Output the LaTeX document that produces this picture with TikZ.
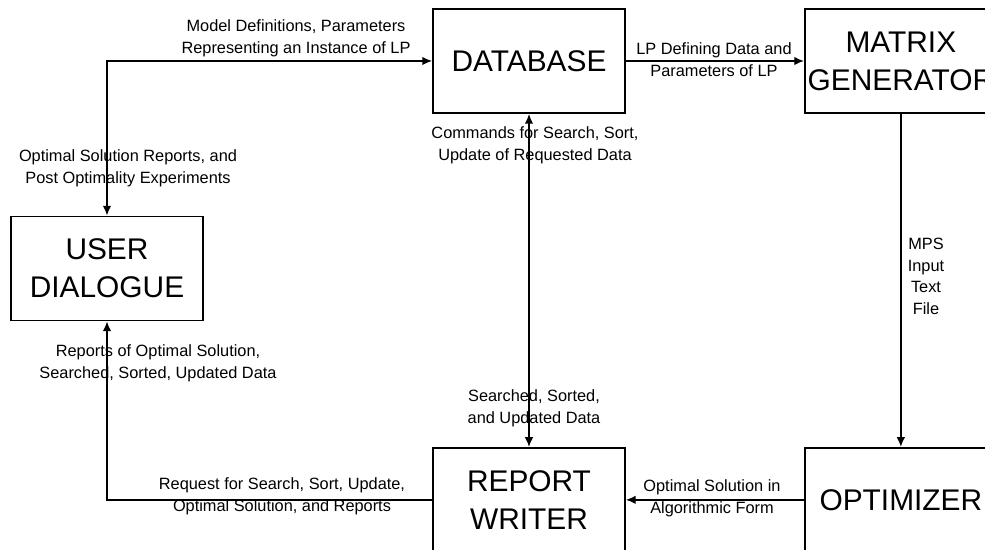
\documentclass[tikz,border=0pt]{standalone}
\usepackage{fontspec}
\setmainfont{Liberation Sans}
\usepackage{tikz}
\usetikzlibrary{arrows.meta,positioning}
\tikzset{
  block/.style   = {draw, line width=1.1pt, minimum width=3.84cm, minimum height=2.08cm,
                    align=center, inner sep=0pt, font=\fontsize{17}{21.6}\selectfont},
  flow/.style    = {black, line width=0.8pt, ->, >={Latex[length=5.5pt,width=4.8pt]}},
  flowboth/.style = {black, line width=0.8pt, <->, >={Latex[length=5.5pt,width=4.8pt]}},
  note/.style    = {align=center, inner sep=0pt, font=\fontsize{9.3}{12.3}\selectfont},
}

\begin{document}
\begin{tikzpicture}[x=0.02cm, y=-0.02cm, node distance=1cm]
      \useasboundingbox (0,0) rectangle (985,550);
      \node[block] (db) at (529,61) {DATABASE};
      \node[block, right=3.56cm of db] (matrix) {MATRIX\\GENERATOR};
      \node[block, below=6.66cm of db] (report) {REPORT\\WRITER};
      \node[block, below=6.66cm of matrix] (opt) {OPTIMIZER};
      \node[block] (user) at (107,268.5) {USER\\DIALOGUE};

      \path (user.north) edge[flowboth, to path={|- (\tikztotarget)}] (db.west);
      \path (db) edge[flowboth] (report);
      \path (db) edge[flow] (matrix);
      \path (matrix) edge[flow] (opt);
      \path (opt) edge[flow] (report);
      \path (report.west) edge[flow, to path={-| (\tikztotarget)}] (user.south);

      \node[note] (lmodel) at (296,38) {Model Definitions, Parameters\\Representing an Instance of LP};
      \node[note] (lpost) at (128,168.5) {Optimal Solution Reports, and\\Post Optimality Experiments};
      \node[note] (lcmd) at (535,145.5) {Commands for Search, Sort,\\Update of Requested Data};
      \node[note] (llp) at (714,59.5) {LP Defining Data and\\Parameters of LP};
      \node[note] (lmps) at (926,276.5) {MPS\\Input\\Text\\File};
      \node[note] (lsearched) at (534,408) {Searched, Sorted,\\and Updated Data};
      \node[note] (lalg) at (712,498.5) {Optimal Solution in\\Algorithmic Form};
      \node[note] (lreq) at (282,496.5) {Request for Search, Sort, Update,\\Optimal Solution, and Reports};
      \node[note] (lrep) at (158,363) {Reports of Optimal Solution,\\Searched, Sorted, Updated Data};
\end{tikzpicture}
\end{document}
